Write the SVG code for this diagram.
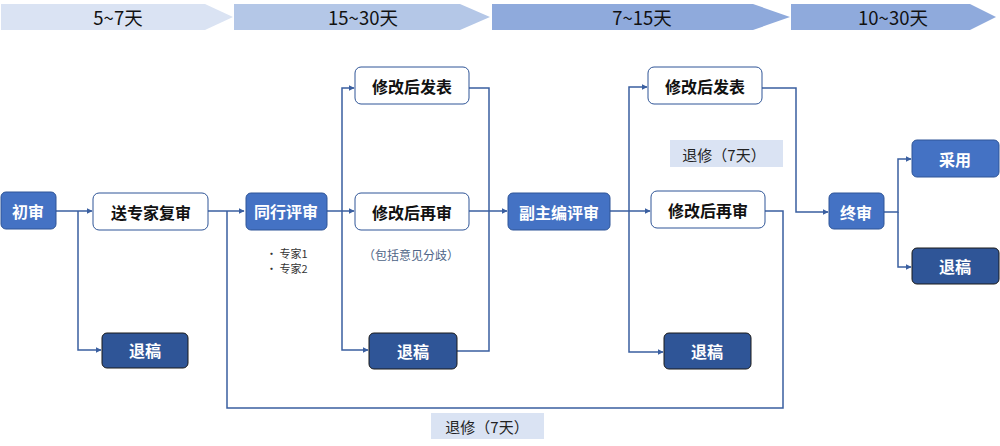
<svg xmlns="http://www.w3.org/2000/svg" width="1000" height="446" viewBox="0 0 1000 446">
<style>
text{font-family:"Noto Sans CJK SC","Noto Sans",sans-serif;text-anchor:middle;dominant-baseline:central}
.band{font-size:18.5px;fill:#111}
.nb{fill:#4472C4;stroke:#2F5597;stroke-width:1}
.nw{fill:#fff;stroke:#2F5597;stroke-width:1}
.nd{fill:#2F5597;stroke:#1a1a1a;stroke-width:1}
.tw{fill:#fff;font-size:16px;font-weight:bold}
.tk{fill:#111;font-size:16px;font-weight:bold}
.ln{fill:none;stroke:#3A5FA0;stroke-width:1.5}
.lab{fill:#DAE3F3}
.lt{fill:#222;font-size:15px}
.sm{fill:#333;font-size:11px;text-anchor:start}
.note{fill:#4E6487;font-size:12px}
</style>
<defs>
<marker id="ar" viewBox="0 0 10 10" refX="9" refY="5" markerWidth="6" markerHeight="6" markerUnits="userSpaceOnUse" orient="auto"><path d="M0,0 L10,5 L0,10 z" fill="#3A5FA0"/></marker>
</defs>
<g id="bands">
<polygon points="1,4 205,4 233,17 205,30 1,30" fill="#DAE3F3"/>
<text class="band" x="118" y="17">5~7天</text>
<polygon points="234,4 460,4 490,17 460,30 234,30" fill="#B4C7E7"/>
<text class="band" x="363" y="17">15~30天</text>
<polygon points="492,4 753,4 790,17 753,30 492,30" fill="#8FAADC"/>
<text class="band" x="642" y="17">7~15天</text>
<polygon points="791,4 970,4 996,17 970,30 791,30" fill="#8FAADC"/>
<text class="band" x="893" y="17">10~30天</text>
</g>
<g id="connectors">
<path class="ln" d="M56,211 H92" marker-end="url(#ar)"/>
<path class="ln" d="M78,211 V350 H101" marker-end="url(#ar)"/>
<path class="ln" d="M208,211 H244" marker-end="url(#ar)"/>
<path class="ln" d="M227,211 V408 H783 V211 H765"/>
<path class="ln" d="M327,211 H354" marker-end="url(#ar)"/>
<path class="ln" d="M342,211 V88 H354" marker-end="url(#ar)"/>
<path class="ln" d="M342,211 V350 H368" marker-end="url(#ar)"/>
<path class="ln" d="M469,88 H489 V351 H457"/>
<path class="ln" d="M469,211 H507" marker-end="url(#ar)"/>
<path class="ln" d="M610,211 H650" marker-end="url(#ar)"/>
<path class="ln" d="M629,211 V87 H647" marker-end="url(#ar)"/>
<path class="ln" d="M629,211 V352 H663" marker-end="url(#ar)"/>
<path class="ln" d="M762,88 H796 V212 H828" marker-end="url(#ar)"/>
<path class="ln" d="M884,212 H898 V159 H911" marker-end="url(#ar)"/>
<path class="ln" d="M898,212 V267 H911" marker-end="url(#ar)"/>
</g>
<g id="n-chushen"><rect class="nb" x="1" y="192" width="55" height="37" rx="5"/><text class="tw" x="28" y="211">初审</text></g>
<g id="n-songzhuanjia"><rect class="nw" x="93" y="193" width="115" height="37" rx="6"/><text class="tk" x="151" y="212">送专家复审</text></g>
<g id="n-tuigao1"><rect class="nd" x="102" y="333" width="86" height="35" rx="5"/><text class="tw" x="145" y="350">退稿</text></g>
<g id="n-tonghang"><rect class="nb" x="246" y="193" width="81" height="37" rx="5"/><text class="tw" x="286" y="211">同行评审</text></g>
<g id="n-experts"><text class="sm" x="266" y="253">· 专家1</text><text class="sm" x="266" y="268">· 专家2</text></g>
<g id="n-fabiao1"><rect class="nw" x="355" y="67" width="114" height="37" rx="6"/><text class="tk" x="412" y="86">修改后发表</text></g>
<g id="n-zaishen1"><rect class="nw" x="355" y="193" width="114" height="37" rx="6"/><text class="tk" x="412" y="212">修改后再审</text></g>
<g id="n-note"><text class="note" x="411" y="254">（包括意见分歧）</text></g>
<g id="n-tuigao2"><rect class="nd" x="369" y="333" width="88" height="36" rx="5"/><text class="tw" x="413" y="351">退稿</text></g>
<g id="n-fuzhubian"><rect class="nb" x="508" y="193" width="102" height="37" rx="5"/><text class="tw" x="559" y="212">副主编评审</text></g>
<g id="n-fabiao2"><rect class="nw" x="648" y="67" width="114" height="37" rx="6"/><text class="tk" x="705" y="86">修改后发表</text></g>
<g id="n-tuixiu1"><rect class="lab" x="670" y="140" width="113" height="27"/><text class="lt" x="724" y="154">退修（7天）</text></g>
<g id="n-zaishen2"><rect class="nw" x="651" y="191" width="114" height="37" rx="6"/><text class="tk" x="708" y="210">修改后再审</text></g>
<g id="n-tuigao3"><rect class="nd" x="664" y="333" width="87" height="36" rx="5"/><text class="tw" x="707" y="351">退稿</text></g>
<g id="n-zhongshen"><rect class="nb" x="829" y="193" width="55" height="36" rx="5"/><text class="tw" x="856" y="212">终审</text></g>
<g id="n-caiyong"><rect class="nb" x="912" y="140" width="87" height="37" rx="5"/><text class="tw" x="955" y="159">采用</text></g>
<g id="n-tuigao4"><rect class="nd" x="912" y="248" width="87" height="36" rx="5"/><text class="tw" x="955" y="266">退稿</text></g>
<g id="n-tuixiu2"><rect class="lab" x="431" y="413" width="113" height="26"/><text class="lt" x="487" y="426">退修（7天）</text></g>
</svg>
